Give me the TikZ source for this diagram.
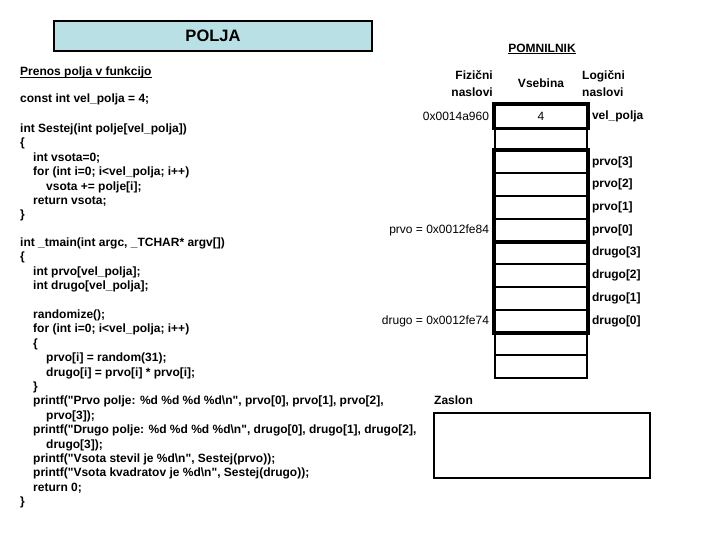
\documentclass[tikz,border=0pt]{standalone}
\usepackage{fontspec}
\setmainfont{Liberation Sans}
\newfontfamily\codefont{Liberation Sans}
\usetikzlibrary{positioning}
\definecolor{ctitle}{RGB}{185,224,228}

\begin{document}
\begin{tikzpicture}[x=1pt, y=-1pt,
    code/.style={anchor=base west, inner sep=0pt, font=\codefont\fontsize{12}{14.4}\selectfont\bfseries},
    lbl/.style={inner sep=0pt, font=\fontsize{12}{17}\selectfont\bfseries},
    addr/.style={inner sep=0pt, font=\fontsize{12}{14}\selectfont},
    cell/.style={draw, line width=1.6pt, minimum width=92pt, minimum height=22.75pt,
                 inner sep=0pt, font=\fontsize{12}{14}\selectfont},
    thickbox/.style={line width=3.8pt},
  ]
  \useasboundingbox (0,0) rectangle (720,540);

  % Title
  \node[draw, fill=ctitle, line width=2pt, minimum width=318pt, minimum height=30pt,
        inner sep=0pt, font=\fontsize{16.5}{18}\selectfont\bfseries]
    (title) at (213,36) {POLJA};

  % Program text
  \node[code] (prenos) at (20,76) {Prenos polja v funkcijo};
  \draw[line width=1pt] ([yshift=-1.5pt]prenos.base west) -- ([yshift=-1.5pt]prenos.base east);
  \node[code] (const) at (20,102.5) {const int vel\_polja = 4;};

  \foreach \n/\ind/\txt in {0/0/{int Sestej(int polje[vel\_polja])}, 1/0/{\{},
      2/1/{int vsota=0;}, 3/1/{for (int i=0; i<vel\_polja; i++)},
      4/2/{vsota += polje[i];}, 5/1/{return vsota;}, 6/0/{\}}}
    \node[code] (sestej\n) at (20+13*\ind, 132.5+14.4*\n) {\txt};

  \foreach \n/\ind/\txt in {0/0/{int \_tmain(int argc, \_TCHAR* argv[])}, 1/0/{\{},
      2/1/{int prvo[vel\_polja];}, 3/1/{int drugo[vel\_polja];},
      5/1/{randomize();}, 6/1/{for (int i=0; i<vel\_polja; i++)}, 7/1/{\{},
      8/2/{prvo[i] = random(31);}, 9/2/{drugo[i] = prvo[i] * prvo[i];}, 10/1/{\}},
      11/1/{printf("Prvo polje: \%d \%d \%d \%d\textbackslash n", prvo[0], prvo[1], prvo[2],},
      12/2/{prvo[3]);},
      13/1/{printf("Drugo polje: \%d \%d \%d \%d\textbackslash n", drugo[0], drugo[1], drugo[2],},
      14/2/{drugo[3]);},
      15/1/{printf("Vsota stevil je \%d\textbackslash n", Sestej(prvo));},
      16/1/{printf("Vsota kvadratov je \%d\textbackslash n", Sestej(drugo));},
      17/1/{return 0;}, 18/0/{\}}}
    \node[code] (tmain\n) at (20+13*\ind, 246.5+14.4*\n) {\txt};

  % Memory
  \node[lbl] (pomnilnik) at (542,48) {POMNILNIK};
  \draw[line width=1pt] ([yshift=-1.5pt]pomnilnik.base west) -- ([yshift=-1.5pt]pomnilnik.base east);
  \node[lbl, align=right, anchor=east] (fiz) at (493,83.5) {Fizični\\naslovi};
  \node[lbl] (vsebina) at (541,83.5) {Vsebina};
  \node[lbl, align=left, anchor=west] (log) at (582,83.5) {Logični\\naslovi};

  \foreach \i in {0,...,11}
    \node[cell] (c\i) at (541, 116.4+22.75*\i) {};
  \node[font=\fontsize{12}{14}\selectfont] at (c0) {4};

  \draw[thickbox] (c0.north west) rectangle (c0.south east);
  \draw[thickbox] (c2.north west) rectangle (c9.south east);
  \draw[thickbox] (c5.south west) -- (c5.south east);

  \node[lbl, right=4pt of c0] {vel\_polja};
  \foreach \i/\name in {2/{prvo[3]}, 3/{prvo[2]}, 4/{prvo[1]}, 5/{prvo[0]},
      6/{drugo[3]}, 7/{drugo[2]}, 8/{drugo[1]}, 9/{drugo[0]}}
    \node[lbl, right=4pt of c\i] {\name};

  \node[addr, left=5pt of c0] (a0) {0x0014a960};
  \node[addr, left=5pt of c5] (aprvo) {prvo = 0x0012fe84};
  \node[addr, left=5pt of c9] (adrugo) {drugo = 0x0012fe74};

  % Screen
  \node[lbl, anchor=base west] (zaslonlbl) at (434,404) {Zaslon};
  \node[draw, line width=1.5pt, minimum width=216pt, minimum height=65pt,
        inner sep=0pt, anchor=north west] (zaslon) at (433,412) {};
\end{tikzpicture}
\end{document}
